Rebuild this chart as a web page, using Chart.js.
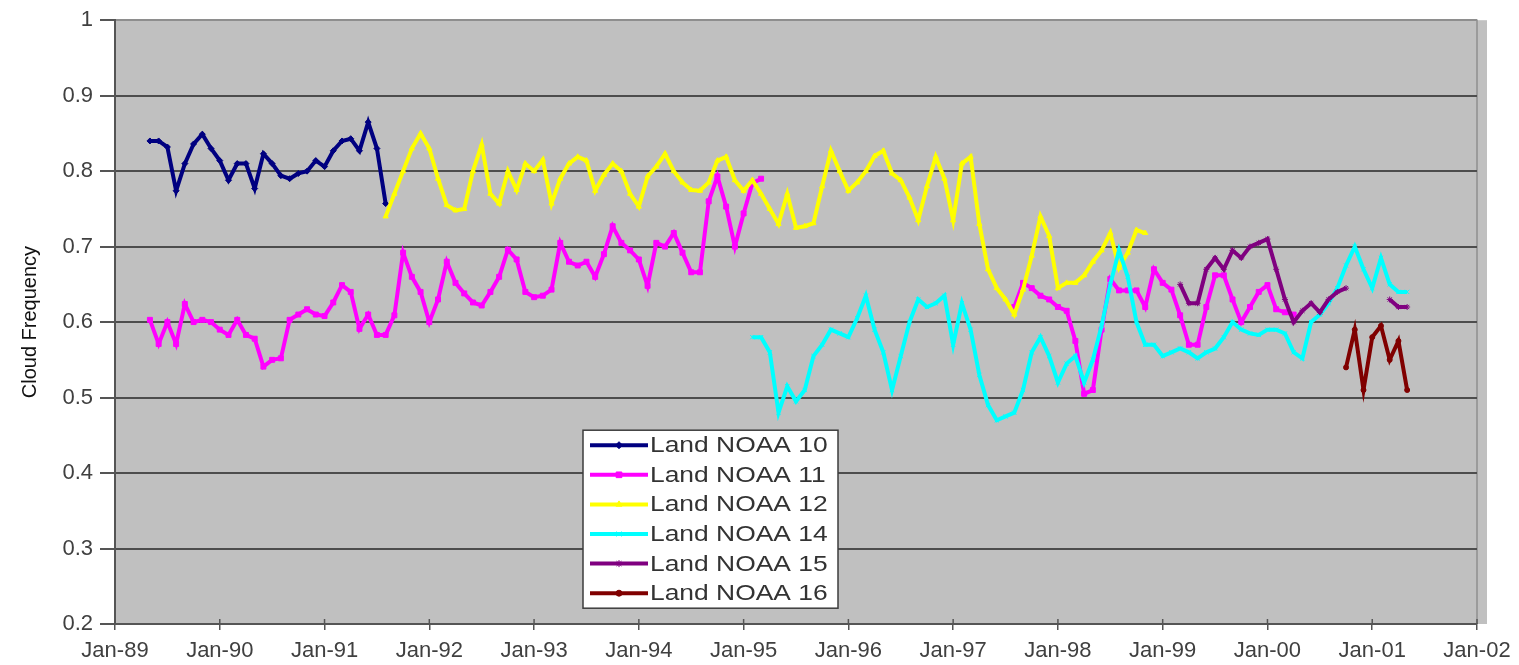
<!DOCTYPE html>
<html>
<head>
<meta charset="utf-8">
<title>Land cloud frequency by satellite</title>
<script src="https://cdn.jsdelivr.net/npm/chart.js@4.4.1/dist/chart.umd.min.js"></script>
<style>
  html, body { margin: 0; padding: 0; background: #ffffff; }
  #wrap { position: relative; width: 1519px; height: 665px; }
</style>
</head>
<body>
<div id="wrap"><canvas id="chart"></canvas></div>
<script>
// Axis labels (one per January, month index 0 = Jan-89)
const tickLabels = ['Jan-89', 'Jan-90', 'Jan-91', 'Jan-92', 'Jan-93', 'Jan-94', 'Jan-95',
                    'Jan-96', 'Jan-97', 'Jan-98', 'Jan-99', 'Jan-00', 'Jan-01', 'Jan-02'];

const seriesNames = ['Land NOAA 10', 'Land NOAA 11', 'Land NOAA 12', 'Land NOAA 14', 'Land NOAA 15', 'Land NOAA 16'];
const seriesColors = ['#000080', '#ff00ff', '#ffff00', '#00ffff', '#800080', '#800000'];

// Monthly land cloud frequency; each series starts at the given month index
const noaa10Start = 4;
const noaa10 = [0.840, 0.840, 0.832, 0.774, 0.810, 0.836, 0.849, 0.830, 0.814, 0.788,
                0.810, 0.810, 0.777, 0.823, 0.810, 0.794, 0.790, 0.797, 0.800, 0.814,
                0.806, 0.827, 0.840, 0.843, 0.827, 0.865, 0.830, 0.757];

const noaa11EarlyStart = 4;
const noaa11Early = [0.603, 0.571, 0.600, 0.571, 0.624, 0.600, 0.603, 0.600, 0.590, 0.583,
                     0.603, 0.583, 0.578, 0.541, 0.550, 0.552, 0.603, 0.610, 0.617, 0.610,
                     0.608, 0.626, 0.649, 0.640, 0.591, 0.610, 0.583, 0.583, 0.609, 0.692,
                     0.660, 0.640, 0.600, 0.630, 0.680, 0.652, 0.638, 0.626, 0.622, 0.640,
                     0.660, 0.696, 0.683, 0.640, 0.633, 0.635, 0.643, 0.705, 0.680, 0.675,
                     0.680, 0.660, 0.690, 0.727, 0.705, 0.695, 0.683, 0.648, 0.705, 0.700,
                     0.718, 0.692, 0.666, 0.666, 0.760, 0.793, 0.753, 0.700, 0.744, 0.784,
                     0.790];
const noaa11LateStart = 103;
const noaa11Late = [0.620, 0.652, 0.645, 0.635, 0.630, 0.620, 0.615, 0.575, 0.505, 0.510,
                    0.590, 0.657, 0.642, 0.642, 0.642, 0.620, 0.670, 0.652, 0.643, 0.609,
                    0.570, 0.570, 0.620, 0.662, 0.662, 0.630, 0.600, 0.620, 0.640, 0.649,
                    0.617, 0.613, 0.610];

const noaa12Start = 31;
const noaa12 = [0.740, 0.770, 0.800, 0.830, 0.850, 0.830, 0.790, 0.755, 0.748, 0.750,
                0.800, 0.835, 0.770, 0.757, 0.800, 0.775, 0.810, 0.800, 0.815, 0.757,
                0.790, 0.810, 0.819, 0.814, 0.774, 0.795, 0.810, 0.800, 0.770, 0.753,
                0.793, 0.806, 0.823, 0.800, 0.785, 0.775, 0.774, 0.785, 0.814, 0.819,
                0.788, 0.774, 0.788, 0.770, 0.750, 0.730, 0.770, 0.725, 0.727, 0.731,
                0.780, 0.827, 0.800, 0.774, 0.785, 0.800, 0.820, 0.827, 0.797, 0.788,
                0.765, 0.735, 0.780, 0.819, 0.790, 0.735, 0.810, 0.819, 0.730, 0.670,
                0.645, 0.630, 0.610, 0.643, 0.688, 0.740, 0.714, 0.645, 0.652, 0.652,
                0.662, 0.680, 0.695, 0.718, 0.672, 0.692, 0.722, 0.718];

const noaa14Start = 73;
const noaa14 = [0.580, 0.580, 0.560, 0.480, 0.515, 0.495, 0.510, 0.555, 0.570, 0.590,
                0.585, 0.580, 0.605, 0.635, 0.590, 0.560, 0.510, 0.555, 0.600, 0.630,
                0.620, 0.625, 0.635, 0.570, 0.625, 0.590, 0.530, 0.490, 0.470, 0.475,
                0.480, 0.510, 0.560, 0.580, 0.555, 0.520, 0.545, 0.555, 0.520, 0.550,
                0.595, 0.650, 0.695, 0.660, 0.600, 0.570, 0.570, 0.555, 0.560, 0.565,
                0.560, 0.552, 0.560, 0.565, 0.580, 0.600, 0.590, 0.585, 0.583, 0.590,
                0.590, 0.585, 0.560, 0.552, 0.600, 0.610, 0.625, 0.645, 0.675, 0.700,
                0.670, 0.645, 0.685, 0.650, 0.640, 0.640];

const noaa15EarlyStart = 122;
const noaa15Early = [0.650, 0.625, 0.625, 0.670, 0.685, 0.670, 0.695, 0.685, 0.700, 0.705,
                     0.710, 0.670, 0.630, 0.600, 0.615, 0.625, 0.613, 0.630, 0.640, 0.645];
const noaa15LateStart = 146;
const noaa15Late = [0.630, 0.620, 0.620];

const noaa16Start = 141;
const noaa16 = [0.540, 0.590, 0.510, 0.580, 0.595, 0.550, 0.575, 0.510];

// Build {x, y} points; a null point breaks the line between two runs
function points(start, values) {
  return values.map((v, i) => ({ x: start + i, y: v }));
}
function withGap(startA, a, startB, b) {
  return [...points(startA, a), { x: startA + a.length, y: null }, ...points(startB, b)];
}

const seriesPoints = [
  points(noaa10Start, noaa10),
  withGap(noaa11EarlyStart, noaa11Early, noaa11LateStart, noaa11Late),
  points(noaa12Start, noaa12),
  points(noaa14Start, noaa14),
  withGap(noaa15EarlyStart, noaa15Early, noaa15LateStart, noaa15Late),
  points(noaa16Start, noaa16)
];
const markerStyles = ['rectRot', 'rect', 'triangle', 'crossRot', 'star', 'circle'];
const markerSizes = [3, 3.5, 3, 3, 3, 2.5];

const FONT = '"Liberation Sans", Arial, sans-serif';

// Grey plotting area with a thin frame on the top and right
const plotBackground = {
  id: 'plotBackground',
  beforeDraw(chart) {
    const { ctx, chartArea: a } = chart;
    ctx.save();
    ctx.fillStyle = '#c0c0c0';
    ctx.fillRect(a.left, a.top, a.right - a.left + 10, a.bottom - a.top);
    ctx.strokeStyle = '#8e8e8e';
    ctx.lineWidth = 1.5;
    ctx.beginPath();
    ctx.moveTo(a.left, a.top);
    ctx.lineTo(a.right, a.top);
    ctx.lineTo(a.right, a.bottom);
    ctx.stroke();
    ctx.restore();
  },
  // tick marks on the date axis cross the axis line
  afterDraw(chart) {
    const { ctx, chartArea: a, scales } = chart;
    ctx.save();
    ctx.strokeStyle = '#555555';
    ctx.lineWidth = 1.5;
    scales.x.ticks.forEach(t => {
      const px = scales.x.getPixelForValue(t.value);
      ctx.beginPath();
      ctx.moveTo(px, a.bottom - 5);
      ctx.lineTo(px, a.bottom);
      ctx.stroke();
    });
    ctx.restore();
  }
};

// Boxed legend placed inside the plotting area
const insetLegend = {
  id: 'insetLegend',
  afterDatasetsDraw(chart) {
    const { ctx, chartArea: a } = chart;
    const bx = a.left + 468, by = a.top + 410, bw = 255, bh = 178;
    ctx.save();
    ctx.fillStyle = '#ffffff';
    ctx.fillRect(bx, by, bw, bh);
    ctx.strokeStyle = '#3c3c3c';
    ctx.lineWidth = 1.5;
    ctx.strokeRect(bx, by, bw, bh);
    chart.data.datasets.forEach((ds, i) => {
      const y = by + 15 + i * 29.6;
      ctx.strokeStyle = ds.borderColor;
      ctx.lineWidth = 4;
      ctx.beginPath();
      ctx.moveTo(bx + 7, y);
      ctx.lineTo(bx + 65, y);
      ctx.stroke();
      ctx.fillStyle = ds.backgroundColor;
      ctx.strokeStyle = ds.borderColor;
      ctx.lineWidth = 1;
      Chart.helpers.drawPoint(ctx, {
        pointStyle: ds.pointStyle, radius: ds.pointRadius + 0.5, rotation: 0, borderWidth: 1
      }, bx + 36, y);
      ctx.save();
      ctx.translate(bx + 67, y);
      ctx.scale(1.2, 1);
      ctx.font = '22px ' + FONT;
      ctx.fillStyle = '#333333';
      ctx.textBaseline = 'middle';
      ctx.fillText(ds.label, 0, 1);
      ctx.restore();
    });
    ctx.restore();
  }
};

new Chart(document.getElementById('chart'), {
  type: 'line',
  data: {
    datasets: seriesNames.map((name, i) => ({
      label: name,
      data: seriesPoints[i],
      borderColor: seriesColors[i],
      backgroundColor: seriesColors[i],
      pointBackgroundColor: seriesColors[i],
      pointBorderColor: seriesColors[i],
      pointStyle: markerStyles[i],
      pointRadius: markerSizes[i],
      pointBorderWidth: 1,
      borderWidth: 4,
      tension: 0,
      spanGaps: false,
      order: seriesNames.length - i
    }))
  },
  options: {
    responsive: true,
    maintainAspectRatio: false,
    animation: false,
    layout: { padding: { top: 15, right: 42, left: 0, bottom: 0 } },
    plugins: { legend: { display: false }, tooltip: { enabled: false } },
    scales: {
      x: {
        type: 'linear',
        min: 0,
        max: 156,
        afterFit(scale) { scale.height = 41; },
        ticks: {
          stepSize: 12,
          autoSkip: false,
          maxRotation: 0,
          padding: 8,
          color: '#404040',
          font: { family: FONT, size: 22 },
          callback: v => (v % 12 === 0 ? tickLabels[Math.round(v / 12)] : '')
        },
        grid: { drawOnChartArea: false, drawTicks: true, tickLength: 6, color: '#555555', lineWidth: 1.5 },
        border: { color: '#555555', width: 2 }
      },
      y: {
        min: 0.2,
        max: 1,
        afterFit(scale) { scale.width = 115; },
        ticks: {
          stepSize: 0.1,
          padding: 7,
          color: '#404040',
          font: { family: FONT, size: 22 },
          callback: v => (Math.abs(v - 1) < 1e-9 ? '1' : v.toFixed(1))
        },
        grid: {
          drawTicks: true,
          tickLength: 15,
          lineWidth: 2,
          tickColor: '#555555',
          color: c => {
            const v = c.tick ? c.tick.value : 0;
            if (Math.abs(v - 1) < 1e-9) return '#8e8e8e';
            if (Math.abs(v - 0.2) < 1e-9) return 'rgba(0,0,0,0)';
            return '#4d4d4d';
          }
        },
        border: { color: '#555555', width: 2 },
        title: {
          display: true,
          text: 'Cloud Frequency',
          color: '#111111',
          font: { family: FONT, size: 20 },
          padding: { top: 18, bottom: 0 }
        }
      }
    }
  },
  plugins: [plotBackground, insetLegend]
});
</script>
</body>
</html>
